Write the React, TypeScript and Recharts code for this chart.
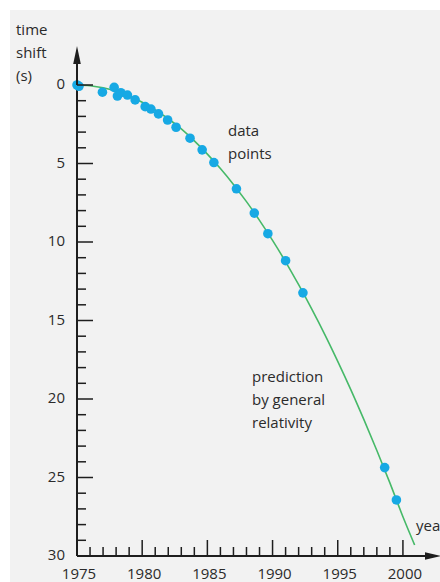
import React from "react";
import { ComposedChart, Line, Scatter, XAxis, YAxis } from "recharts";

// Observed data points (year, time shift in s)
const pointYears = [1975.0, 1975.15, 1976.95, 1977.85, 1978.1, 1978.36, 1978.87, 1979.46, 1980.23, 1980.67, 1981.25, 1981.95, 1982.6, 1983.67, 1984.6, 1985.5, 1987.23, 1988.6, 1989.64, 1991.0, 1992.33, 1998.6, 1999.5];
const pointShifts = [0.0, 0.08, 0.46, 0.15, 0.7, 0.49, 0.64, 0.95, 1.38, 1.53, 1.84, 2.23, 2.69, 3.39, 4.13, 4.94, 6.61, 8.16, 9.47, 11.19, 13.24, 24.37, 26.43];

// Prediction curve
const curveYears = [1975, 1976, 1977, 1978, 1979, 1980, 1981, 1982, 1983, 1984, 1985, 1986, 1987, 1988, 1989, 1990, 1991, 1992, 1993, 1994, 1995, 1996, 1997, 1998, 1999, 2000, 2000.9];
const curveShifts = [0, 0.05, 0.18, 0.4, 0.7, 1.1, 1.58, 2.15, 2.8, 3.56, 4.4, 5.32, 6.33, 7.43, 8.62, 9.9, 11.26, 12.72, 14.26, 15.88, 17.6, 19.4, 21.3, 23.28, 25.34, 27.5, 29.3];

const xTicks = [1975, 1976, 1977, 1978, 1979, 1980, 1981, 1982, 1983, 1984, 1985, 1986, 1987, 1988, 1989, 1990, 1991, 1992, 1993, 1994, 1995, 1996, 1997, 1998, 1999, 2000];
const yTicks = [0, 1, 2, 3, 4, 5, 6, 7, 8, 9, 10, 11, 12, 13, 14, 15, 16, 17, 18, 19, 20, 21, 22, 23, 24, 25, 26, 27, 28, 29, 30];

const pointData = pointYears.map((x, i) => ({ x, y: pointShifts[i] }));
const curveData = curveYears.map((x, i) => ({ x, y: curveShifts[i] }));

const FONT = "'Open Sans', 'DejaVu Sans', sans-serif";
const AXIS = "#1e1e1e";
const TEXT = "#2b2b2b";

const W = 440;
const H = 582;
const LEFT = 77;
const TOP = 85;
const RIGHT = 11;
const BOTTOM = 26;

const XTick = (props: any) => {
  const { x, y, payload } = props;
  const v = payload.value;
  const major = v % 5 === 0;
  return (
    <g>
      <line x1={x} x2={x} y1={y} y2={y - (major ? 16 : 9)} stroke={AXIS} strokeWidth={1.5} />
      {major && (
        <text x={x + 2} y={y + 23} textAnchor="middle" fontSize={15} fontFamily={FONT} fill={TEXT}>
          {v}
        </text>
      )}
    </g>
  );
};

const YTick = (props: any) => {
  const { x, y, payload } = props;
  const v = payload.value;
  const major = v % 5 === 0;
  return (
    <g>
      <line x1={x} x2={x + (major ? 16 : 9)} y1={y} y2={y} stroke={AXIS} strokeWidth={1.5} />
      {major && (
        <text x={x - 12} y={y + 4} textAnchor="end" fontSize={15} fontFamily={FONT} fill={TEXT}>
          {v}
        </text>
      )}
    </g>
  );
};

const Dot = (props: any) => <circle cx={props.cx} cy={props.cy} r={4.8} fill="#17a9e4" />;

export default function App() {
  const axisBottom = H - BOTTOM;
  return (
    <div style={{ position: "absolute", left: 0, top: 0, width: W, height: H, background: "#ffffff", overflow: "hidden" }}>
      <div style={{ position: "absolute", left: 10, top: 10, width: W - 10, height: H - 10, background: "#f2f2f2" }} />
      <div style={{ position: "absolute", left: 0, top: 0 }}>
        <ComposedChart width={W} height={H} margin={{ top: TOP, right: RIGHT, bottom: 0, left: 0 }}>
          <XAxis
            type="number"
            dataKey="x"
            domain={[1975, 2002]}
            ticks={xTicks}
            interval={0}
            height={BOTTOM}
            tickSize={0}
            tickMargin={0}
            tick={<XTick />}
            axisLine={{ stroke: AXIS, strokeWidth: 2 }}
            tickLine={false}
          />
          <YAxis
            type="number"
            dataKey="y"
            domain={[0, 30]}
            reversed
            ticks={yTicks}
            interval={0}
            width={LEFT}
            tickSize={0}
            tickMargin={0}
            tick={<YTick />}
            axisLine={{ stroke: AXIS, strokeWidth: 2 }}
            tickLine={false}
          />
          <Line
            data={curveData}
            dataKey="y"
            type="monotone"
            stroke="#46b968"
            strokeWidth={1.6}
            dot={false}
            isAnimationActive={false}
          />
          <Scatter data={pointData} dataKey="y" shape={<Dot />} isAnimationActive={false} />
        </ComposedChart>
      </div>
      <svg width={W} height={H} style={{ position: "absolute", left: 0, top: 0, pointerEvents: "none" }}>
        {/* y-axis extension with arrow */}
        <line x1={LEFT} x2={LEFT} y1={TOP} y2={58} stroke={AXIS} strokeWidth={2} />
        <polygon points={`${LEFT},46 ${LEFT - 3.8},64 ${LEFT + 3.8},64`} fill={AXIS} />
        {/* x-axis extension with arrow */}
        <line x1={W - RIGHT} x2={W - 6} y1={axisBottom} y2={axisBottom} stroke={AXIS} strokeWidth={2} />
        <polygon points={`${W + 1},${axisBottom} ${W - 15},${axisBottom - 3.8} ${W - 15},${axisBottom + 3.8}`} fill={AXIS} />
        <g fontFamily={FONT} fontSize={15} fill={TEXT}>
          <text x={16} y={35}>time</text>
          <text x={16} y={58}>shift</text>
          <text x={16} y={81}>(s)</text>
          <text x={228} y={136}>data</text>
          <text x={228} y={159}>points</text>
          <text x={252} y={382}>prediction</text>
          <text x={252} y={405}>by general</text>
          <text x={252} y={428}>relativity</text>
          <text x={416} y={531}>years</text>
        </g>
      </svg>
    </div>
  );
}
